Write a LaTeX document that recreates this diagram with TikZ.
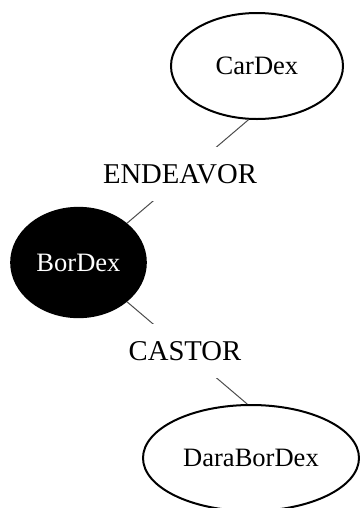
\documentclass[tikz,border=0pt]{standalone}
\usepackage{fontspec}
\setmainfont{Liberation Serif}
\usetikzlibrary{shapes.geometric}
\begin{document}
\begin{tikzpicture}[x=0.75pt,y=-0.75pt,
  concept/.style={ellipse, draw=black, line width=1.5pt, inner sep=0pt,
    font=\fontsize{19.9}{24}\selectfont},
  link/.style={draw=black!70, line width=0.75pt},
  rel/.style={fill=white, inner sep=0pt, minimum height=41pt,
    font=\fontsize{21.5}{26}\selectfont}]
  \useasboundingbox (0,0) rectangle (360,508);
  \clip (0,0) rectangle (360,508);

  % concepts
  \node[concept, minimum width=129pt, minimum height=79.5pt] (cd) at (257,66) {CarDex};
  \node[concept, fill=black, text=white, minimum width=101pt, minimum height=82pt] (bd) at (78.5,262.5) {BorDex};
  \node[concept, minimum width=162pt, minimum height=79.5pt] (dbd) at (251,458) {DaraBorDex};

  % relations
  \draw[link] (cd.-99) -- (bd.39);
  \draw[link] (bd.-39) -- (dbd.94);

  % relation labels, masking the middle of each link
  \node[rel] (en) at (180,174) {ENDEAVOR};
  \node[rel] (ca) at (185,351) {CASTOR};
\end{tikzpicture}
\end{document}
